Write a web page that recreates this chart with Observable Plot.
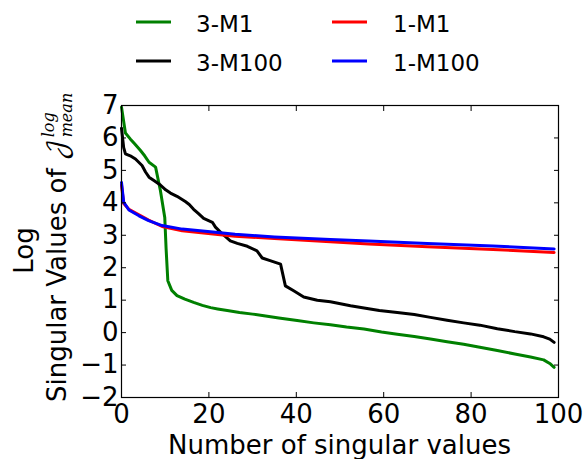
<!DOCTYPE html>
<html><head><meta charset="utf-8">
<script src="https://cdn.jsdelivr.net/npm/d3@7"></script>
<script src="https://cdn.jsdelivr.net/npm/@observablehq/plot@0.6"></script>
<style>
body{margin:0;background:#fff;font-family:"DejaVu Sans",sans-serif}
svg{display:block}
</style>
</head><body><div id="chart"></div>
<script>
// ---- data ----
const seriesNames = ["3-M1", "3-M100", "1-M1", "1-M100"];
const seriesColors = ["#008000", "#000000", "#ff0000", "#0000ff"];

const x3M1 = [0,0.9,2,3,4.3,5.3,6.3,7.8,8.9,9.9,10.2,10.6,11.5,12.7,14.5,16.5,18.5,20.4,22,24.2,27,30,32.6,36,40.2,44,47.8,51.5,55.5,59.5,63.1,67,70.7,74.5,78.3,82,86,90,93.6,96.6,98,99];
const y3M1 = [6.95,6.15,5.97,5.82,5.62,5.45,5.25,5.1,4.38,3.55,2.6,1.6,1.3,1.14,1.03,0.93,0.84,0.77,0.73,0.68,0.62,0.57,0.52,0.45,0.37,0.3,0.24,0.17,0.11,0.02,-0.05,-0.12,-0.2,-0.28,-0.36,-0.45,-0.55,-0.66,-0.75,-0.84,-0.95,-1.07];

const x3M100 = [0,0.5,0.9,2,3.2,4.7,5.5,6.3,7.5,8.9,10.1,11.2,12.7,14.6,15.5,16.5,17.5,18.8,20.8,21.5,22.7,24.9,26.5,28.8,31,32.2,34,36.4,37.5,39.4,41.7,44.8,47.8,52.4,55.5,59,63.1,67,70.7,74.5,78.3,82,86,90,93.6,96.6,98,99];
const y3M100 = [6.3,5.7,5.51,5.45,5.35,5.15,4.95,4.79,4.68,4.55,4.4,4.3,4.2,4.04,3.95,3.8,3.68,3.52,3.4,3.25,3.09,2.83,2.75,2.66,2.52,2.3,2.22,2.11,1.44,1.29,1.1,1.0,0.95,0.83,0.76,0.68,0.62,0.56,0.47,0.38,0.3,0.23,0.12,0.03,-0.04,-0.13,-0.2,-0.3];

const x1M1 = [0,0.5,1.7,4,6.2,9.3,13.9,21.5,26,35,47.8,56.6,70,85,99];
const y1M1 = [4.55,3.98,3.8,3.63,3.47,3.27,3.14,3.03,2.97,2.9,2.8,2.73,2.65,2.56,2.47];

const x1M100 = [0,0.5,1.7,4,6.2,9.3,13.9,21.5,26,35,47.8,56.6,70,85,99];
const y1M100 = [4.63,4.02,3.78,3.6,3.45,3.3,3.19,3.09,3.03,2.95,2.87,2.82,2.75,2.67,2.58];

const xTicks = [0, 20, 40, 60, 80, 100];
const yTicks = [-2, -1, 0, 1, 2, 3, 4, 5, 6, 7];
const xLabel = "Number of singular values";
const yLabel1 = "Log";
const yLabel2 = "Singular Values of ";
const yLabelSymbol = "\u{1D4A5}";
const yLabelSup = "log";
const yLabelSub = "mean";

// ---- build table ----
const seriesX = [x3M1, x3M100, x1M1, x1M100];
const seriesY = [y3M1, y3M100, y1M1, y1M100];
const rows = [];
seriesNames.forEach((name, i) => {
  seriesX[i].forEach((x, j) => rows.push({series: name, x, y: seriesY[i][j]}));
});

const chart = document.getElementById("chart");

// ---- legend (above the plot) ----
const leg = d3.create("svg").attr("width", 586).attr("height", 85)
  .attr("font-family", "DejaVu Sans").attr("font-size", 23);
const legendPos = [
  {lx: 136, ty: 22, tx: 196},
  {lx: 136, ty: 61, tx: 196},
  {lx: 332, ty: 22, tx: 393},
  {lx: 332, ty: 61, tx: 393}
];
seriesNames.forEach((name, i) => {
  const p = legendPos[i];
  leg.append("line").attr("x1", p.lx).attr("x2", p.lx + 35).attr("y1", p.ty).attr("y2", p.ty)
    .attr("stroke", seriesColors[i]).attr("stroke-width", 3);
  leg.append("text").attr("x", p.tx).attr("y", p.ty + 10).attr("fill", "black").text(name);
});
chart.appendChild(leg.node());

// ---- plot ----
const plot = Plot.plot({
  width: 586, height: 374,
  marginTop: 20, marginBottom: 62, marginLeft: 121, marginRight: 28,
  style: {fontFamily: "DejaVu Sans", fontSize: "26px", color: "black", background: "white"},
  x: {domain: [0, 100]},
  y: {domain: [-2, 7]},
  color: {domain: seriesNames, range: seriesColors},
  marks: [
    Plot.line(rows, {x: "x", y: "y", z: "series", stroke: "series", strokeWidth: 3, strokeLinejoin: "round"}),
    Plot.frame({stroke: "black", strokeWidth: 1.2}),
    Plot.axisX({ticks: xTicks, anchor: "bottom", tickSize: -5, tickPadding: 12, label: null, fontSize: 26}),
    Plot.axisX({ticks: xTicks, anchor: "top", tickSize: -5, tickFormat: () => "", label: null}),
    Plot.axisY({ticks: yTicks, anchor: "left", tickSize: -5, tickPadding: 8, label: null, fontSize: 26}),
    Plot.axisY({ticks: yTicks, anchor: "right", tickSize: -5, tickFormat: () => "", label: null})
  ]
});
chart.appendChild(plot);

// ---- axis labels ----
const svg = d3.select(plot);
const g = svg.append("g").attr("font-family", "DejaVu Sans").attr("font-size", 26).attr("fill", "black");
g.append("text").attr("x", 339.5).attr("y", 369).attr("text-anchor", "middle").text(xLabel);
g.append("text").attr("transform", "translate(33,165.5) rotate(-90)").attr("text-anchor", "middle").text(yLabel1);
const t2 = g.append("text").attr("text-anchor", "start").attr("transform", "translate(66,317) rotate(-90)");
t2.append("tspan").text(yLabel2);
t2.append("tspan").attr("font-family", "'DejaVu Math TeX Gyre','DejaVu Serif',serif").attr("font-style", "normal").text(yLabelSymbol);
const sup = t2.append("tspan").attr("font-family", "'DejaVu Serif',serif").attr("font-style", "italic")
  .attr("font-size", 16).attr("dx", 2).attr("dy", -12).text(yLabelSup);
const supLen = sup.node().getComputedTextLength();
t2.append("tspan").attr("font-family", "'DejaVu Serif',serif").attr("font-style", "italic")
  .attr("font-size", 16).attr("dx", -supLen).attr("dy", 18).text(yLabelSub);
</script>
</body></html>
